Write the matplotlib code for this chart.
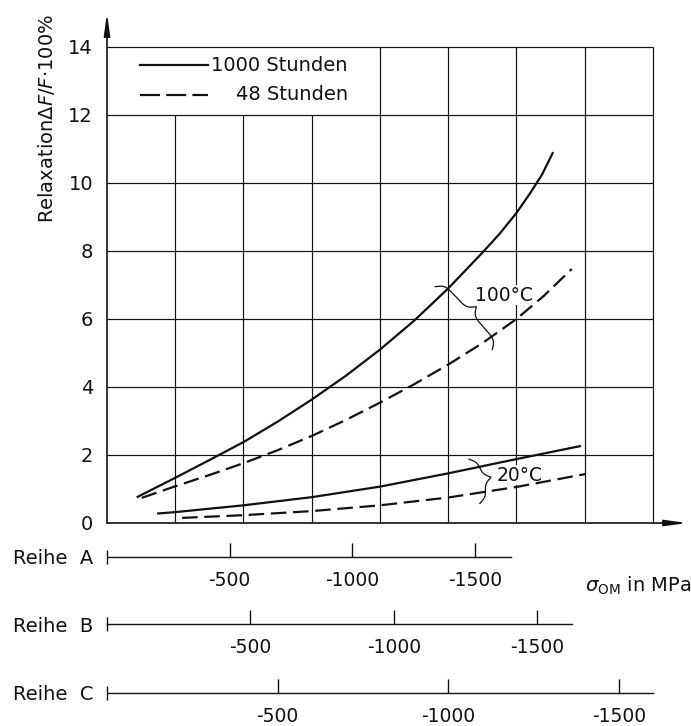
import numpy as np
import matplotlib.pyplot as plt

plt.rcParams['font.family'] = ['DejaVu Sans']
plt.rcParams['axes.unicode_minus'] = False
plt.rcParams['mathtext.fontset'] = 'dejavusans'

# ── Data (stress on the grid axis given in MPa of "Reihe C") ──
SIG_100_1000H = [90, 200, 300, 400, 500, 600, 700, 800, 900, 1000, 1100, 1150, 1200, 1240,
                 1275, 1306]
REL_100_1000H = [0.77, 1.33, 1.85, 2.38, 2.98, 3.63, 4.33, 5.10, 5.95, 6.90, 7.95, 8.50,
                 9.12, 9.70, 10.25, 10.88]
SIG_100_48H = [102, 200, 300, 400, 500, 600, 700, 800, 900, 1000, 1100, 1200, 1280, 1362]
REL_100_48H = [0.74, 1.08, 1.41, 1.76, 2.14, 2.56, 3.03, 3.54, 4.08, 4.66, 5.29, 6.0,
               6.68, 7.47]
SIG_20_1000H = [150, 200, 300, 400, 600, 800, 1000, 1200, 1386]
REL_20_1000H = [0.28, 0.32, 0.42, 0.52, 0.76, 1.07, 1.46, 1.88, 2.26]
SIG_20_48H = [220, 400, 600, 800, 1000, 1200, 1402]
REL_20_48H = [0.15, 0.23, 0.35, 0.52, 0.75, 1.06, 1.44]

Y_TICKS = [0, 2, 4, 6, 8, 10, 12, 14]
GRID_X = [200, 400, 600, 800, 1000, 1200, 1400, 1600]
X_MAX, Y_MAX = 1700, 15

REIHEN = ['A', 'B', 'C']
REIHE_FACTOR = [1.39, 1.19, 1.0]      # MPa of each row per MPa of row C
REIHE_END = [-1645, -1620, -1600]
REIHE_TICKS = [-500, -1000, -1500]

# brace anchors: stress where the brace meets the (1000 h, 48 h) curves
BRACE_100 = (1000, 1128)
BRACE_20 = (1092, 1110)

# ── Layout (pixels) ──
W, H = 691, 726
AX_LEFT, AX_TOP, AX_RIGHT, AX_BOT = 107, 13, 687.1, 523
REIHE_Y = [557, 624, 693]
INK = '#111111'


def px_box(x0, y_top, x1, y_bot):
    return [x0 / W, 1 - y_bot / H, (x1 - x0) / W, (y_bot - y_top) / H]


def brace(ax, sig_top, sig_bot, curve_top, curve_bot, width=17, ext=10, beta=0.35):
    """Curly brace between two curves; cusp points to the right."""
    a = ax.transData.transform((sig_top, np.interp(sig_top, *curve_top)))
    b = ax.transData.transform((sig_bot, np.interp(sig_bot, *curve_bot)))
    d = (b - a) / np.hypot(*(b - a))
    n = np.array([-d[1], d[0]])
    start = a - ext * d - 0.5 * width * n
    L = np.hypot(*(b - a)) + 2 * ext
    s = np.linspace(0, L, 301)
    h = np.minimum(s, L - s)
    sig = lambda v: 1 / (1 + np.exp(-v))
    prof = sig(beta * h) + sig(beta * (h - L / 2)) - 0.5
    pts = start + s[:, None] * d + (width * prof)[:, None] * n
    pts = ax.transData.inverted().transform(pts)
    ax.plot(pts[:, 0], pts[:, 1], color=INK, lw=0.9, zorder=4, clip_on=False)


fig = plt.figure(figsize=(W / 100, H / 100), dpi=100)
ax = fig.add_axes(px_box(AX_LEFT, AX_TOP, AX_RIGHT, AX_BOT))
ax.set_xlim(0, X_MAX)
ax.set_ylim(0, Y_MAX)
for s in ax.spines.values():
    s.set_visible(False)
ax.set_xticks([])
ax.set_yticks(Y_TICKS)
ax.tick_params(axis='y', length=0, pad=10, labelsize=14, labelcolor=INK)

# ── Grid (legend box keeps the top-left cells open) ──
legend_right = 800
ax.hlines(Y_TICKS[1:], 0, GRID_X[-1], color=INK, lw=0.85, zorder=1)
tops = [Y_TICKS[-2] if x < legend_right else Y_TICKS[-1] for x in GRID_X]
ax.vlines(GRID_X, 0, tops, color=INK, lw=0.85, zorder=1)

# ── Axis arrows ──
arrow = dict(arrowstyle='-|>,head_length=1.3,head_width=0.18', color=INK, lw=1.2,
             shrinkA=0, shrinkB=0, mutation_scale=10)
ax.annotate('', xy=(0, Y_MAX), xytext=(0, 0), arrowprops=arrow, annotation_clip=False)
ax.annotate('', xy=(X_MAX, 0), xytext=(0, 0), arrowprops=arrow, annotation_clip=False)

# ── Curves ──
line_kw = dict(color=INK, lw=1.6, zorder=3, solid_joinstyle='round')
ax.plot(SIG_100_1000H, REL_100_1000H, **line_kw)
ax.plot(SIG_100_48H, REL_100_48H, dashes=(7, 3), **line_kw)
ax.plot(SIG_20_1000H, REL_20_1000H, **line_kw)
ax.plot(SIG_20_48H, REL_20_48H, dashes=(7, 3), **line_kw)

brace(ax, *BRACE_100, (SIG_100_1000H, REL_100_1000H), (SIG_100_48H, REL_100_48H))
brace(ax, *BRACE_20, (SIG_20_1000H, REL_20_1000H), (SIG_20_48H, REL_20_48H))

label_box = dict(facecolor='white', edgecolor='none', pad=0.5)
ax.text(1078, 6.7, '100°C', ha='left', va='center', fontsize=13.5, color=INK,
        bbox=label_box, zorder=2.5)
ax.text(1143, 1.41, '20°C', ha='left', va='center', fontsize=13.5, color=INK,
        bbox=label_box, zorder=2.5)

# ── Legend ──
ax.plot([97, 296], [13.47, 13.47], color=INK, lw=1.6)
ax.plot([97, 296], [12.59, 12.59], color=INK, lw=1.6, dashes=(9, 2.8))
ax.text(706, 13.47, '1000 Stunden', ha='right', va='center', fontsize=14, color=INK)
ax.text(706, 12.59, '48 Stunden', ha='right', va='center', fontsize=14, color=INK)

# ── Stress scales for the three rows ──
for name, factor, end, y in zip(REIHEN, REIHE_FACTOR, REIHE_END, REIHE_Y):
    rax = fig.add_axes(px_box(AX_LEFT, y - 20, AX_RIGHT, y))
    rax.patch.set_visible(False)
    rax.set_xlim(0, -X_MAX * factor)
    rax.set_ylim(0, 1)
    for side in ('left', 'right', 'top'):
        rax.spines[side].set_visible(False)
    rax.spines['bottom'].set_bounds(end, 0)
    rax.spines['bottom'].set_linewidth(1.0)
    rax.spines['bottom'].set_color(INK)
    rax.set_yticks([])
    rax.set_xticks(REIHE_TICKS)
    rax.set_xticks([0], minor=True)
    rax.tick_params(axis='x', which='major', direction='in', length=10, width=1.0,
                    pad=10, labelsize=13.5, color=INK, labelcolor=INK)
    rax.tick_params(axis='x', which='minor', direction='inout', length=9.5, width=1.0,
                    color=INK)
    fig.text(13 / W, 1 - (y + 2) / H, f'Reihe  {name}', ha='left', va='center',
             fontsize=14, color=INK)

fig.text(585 / W, 1 - 592 / H, r'$\sigma_{\mathrm{OM}}$ in MPa', ha='left',
         va='baseline', fontsize=14, color=INK)
fig.text(47 / W, 1 - 118.5 / H, r'Relaxation$\mathit{\Delta F/F}$·100%',
         rotation=90, ha='center', va='center', fontsize=14, color=INK)

fig.savefig('out.png', dpi=100)
